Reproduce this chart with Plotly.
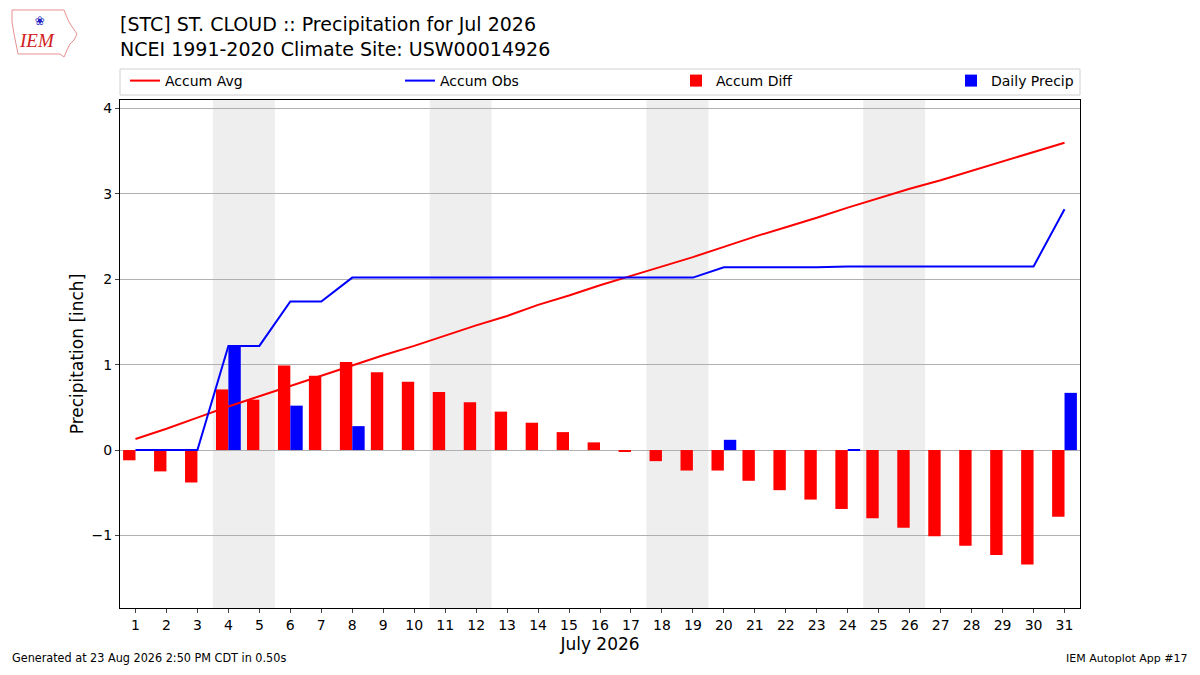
import plotly.graph_objects as go

# July 2026 daily values, St. Cloud (STC)
days = list(range(1, 32))
accum_avg = [0.13, 0.25, 0.38, 0.51, 0.63, 0.75, 0.87, 0.99, 1.11, 1.22,
             1.34, 1.46, 1.57, 1.70, 1.81, 1.93, 2.04, 2.15, 2.26, 2.38,
             2.50, 2.61, 2.72, 2.84, 2.95, 3.06, 3.16, 3.27, 3.38, 3.49, 3.60]
accum_obs = [0.0, 0.0, 0.0, 1.22, 1.22, 1.74, 1.74, 2.02, 2.02, 2.02,
             2.02, 2.02, 2.02, 2.02, 2.02, 2.02, 2.02, 2.02, 2.02, 2.14,
             2.14, 2.14, 2.14, 2.15, 2.15, 2.15, 2.15, 2.15, 2.15, 2.15, 2.82]
accum_diff = [-0.12, -0.25, -0.38, 0.71, 0.59, 0.99, 0.87, 1.03, 0.91, 0.80,
              0.68, 0.56, 0.45, 0.32, 0.21, 0.09, -0.02, -0.13, -0.24, -0.24,
              -0.36, -0.47, -0.58, -0.69, -0.80, -0.91, -1.01, -1.12, -1.23, -1.34, -0.78]
daily_precip = [0, 0, 0, 1.22, 0, 0.52, 0, 0.28, 0, 0,
                0, 0, 0, 0, 0, 0, 0, 0, 0, 0.12,
                0, 0, 0, 0.01, 0, 0, 0, 0, 0, 0, 0.67]
weekend_days = [4, 5, 11, 12, 18, 19, 25, 26]
y_ticks = [-1, 0, 1, 2, 3, 4]

# the page puts the figure 8px in from the top-left corner
W, H = 1184, 659
L, R, T, B = 112, 112, 92, 59
PW, PH = W - L - R, H - T - B


def px(xp, yp):
    # page pixel -> paper coords
    return (xp - 8 - L) / PW, 1 - (yp - 8 - T) / PH


fig = go.Figure()

fig.add_trace(go.Scatter(x=days, y=accum_avg, mode="lines", name="Accum Avg",
                         line=dict(color="red", width=2), legend="legend"))
fig.add_trace(go.Scatter(x=days, y=accum_obs, mode="lines", name="Accum Obs",
                         line=dict(color="blue", width=2), legend="legend2"))
fig.add_trace(go.Bar(x=days, y=accum_diff, name="Accum Diff", marker_color="red",
                     marker_line_width=0, width=0.4, offset=-0.4, legend="legend3"))
fig.add_trace(go.Bar(x=days, y=daily_precip, name="Daily Precip", marker_color="blue",
                     marker_line_width=0, width=0.4, offset=0, legend="legend4"))

# weekend shading
for d in weekend_days[::2]:
    fig.add_vrect(x0=d - 0.5, x1=d + 1.5, fillcolor="#eeeeee", line_width=0,
                  layer="below")

# one legend per column, spread across like the matplotlib expand mode
leg_y = px(0, 81)[1]
legs = {}
for name, tx in zip(["legend", "legend2", "legend3", "legend4"], [165, 440, 716, 991]):
    legs[name] = dict(orientation="h", x=px(tx - 40, 0)[0], xanchor="left",
                      y=leg_y, yanchor="middle", bgcolor="rgba(0,0,0,0)",
                      borderwidth=0, font=dict(size=14))

fig.update_layout(
    width=W, height=H,
    margin=dict(l=L, r=R, t=T, b=B),
    paper_bgcolor="white", plot_bgcolor="white",
    barmode="overlay",
    font=dict(family="DejaVu Sans", size=14, color="black"),
    showlegend=True,
    **legs,
)

# legend frame
lx0, ly0 = px(120, 95)
lx1, ly1 = px(1080, 69)
fig.add_shape(type="rect", xref="paper", yref="paper", x0=lx0, x1=lx1, y0=ly0, y1=ly1,
              line=dict(color="#d0d0d0", width=1), fillcolor="rgba(0,0,0,0)")

fig.update_xaxes(range=[0.5, 31.5], tickvals=days, ticks="outside", ticklen=4,
                 showgrid=False, showline=True, linecolor="black", mirror=True,
                 zeroline=False,
                 title=dict(text="July 2026", font=dict(size=17), standoff=6))
fig.update_yaxes(range=[-1.85, 4.1], tickvals=y_ticks,
                 ticktext=[str(v).replace("-", "\u2212") for v in y_ticks],
                 ticks="outside", ticklen=4, showgrid=True, gridcolor="#b0b0b0",
                 zeroline=True, zerolinecolor="#b0b0b0", zerolinewidth=1,
                 showline=True, linecolor="black", mirror=True,
                 title=dict(text="Precipitation [inch]", font=dict(size=17), standoff=3))

# titles
fig.add_annotation(text="[STC] ST. CLOUD :: Precipitation for Jul 2026<br>"
                        "NCEI 1991-2020 Climate Site: USW00014926",
                   xref="paper", yref="paper", x=0, y=1.0, xanchor="left",
                   yanchor="top", showarrow=False, align="left",
                   font=dict(size=19), xshift=-2, yshift=89)

# logo stand-in: rough state outline and IEM text
outline = [(12, 10), (64, 10), (66, 15), (69, 22), (73, 28), (77, 34), (74, 40),
           (70, 44), (67, 50), (64, 57), (60, 54), (18, 54), (16, 44), (14, 34),
           (12, 22)]
pts = [px(a, b) for a, b in outline]
path = "M " + " L ".join(f"{a:.4f},{b:.4f}" for a, b in pts) + " Z"
fig.add_shape(type="path", xref="paper", yref="paper", path=path,
              line=dict(color="#e89090", width=1), fillcolor="rgba(0,0,0,0)")
lgx, lgy = px(37, 41)
fig.add_annotation(text="<i>IEM</i>", xref="paper", yref="paper", x=lgx, y=lgy,
                   xanchor="center", yanchor="middle", showarrow=False,
                   font=dict(family="Liberation Serif", size=19, color="#d02020"))
lbx, lby = px(40, 21)
fig.add_annotation(text="\u2740", xref="paper", yref="paper", x=lbx, y=lby,
                   xanchor="center", yanchor="middle", showarrow=False,
                   font=dict(size=12, color="#2020c0"))

# footer
fig.add_annotation(text="Generated at 23 Aug 2026 2:50 PM CDT in 0.50s",
                   xref="paper", yref="paper", x=0, y=0, xanchor="left",
                   yanchor="bottom", xshift=-110, yshift=-59,
                   showarrow=False,
                   font=dict(family="DejaVu Sans Condensed, DejaVu Sans", size=12.5))
fig.add_annotation(text="IEM Autoplot App #17",
                   xref="paper", yref="paper", x=1, y=0, xanchor="right",
                   yanchor="bottom", xshift=110, yshift=-59,
                   showarrow=False, font=dict(size=11))

fig.write_html("out.html")
